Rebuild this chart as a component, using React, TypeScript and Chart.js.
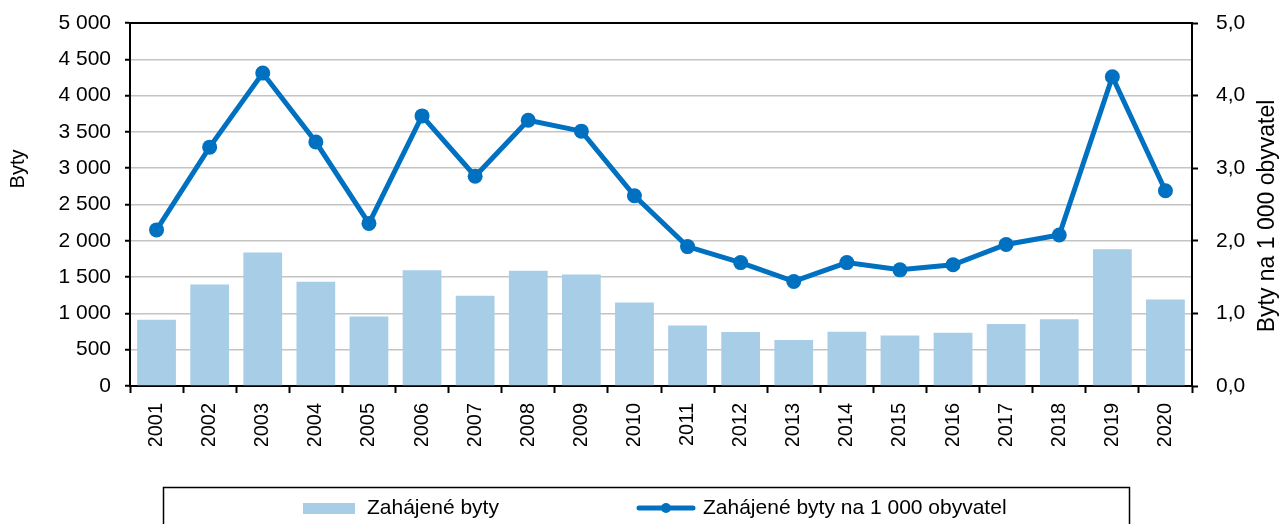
import React, { useEffect, useRef } from 'react';
import { Chart, registerables } from 'chart.js';

Chart.register(...registerables);

const FONT = "'Liberation Sans', Arial, Helvetica, sans-serif";

const years = ['2001', '2002', '2003', '2004', '2005', '2006', '2007', '2008', '2009', '2010',
  '2011', '2012', '2013', '2014', '2015', '2016', '2017', '2018', '2019', '2020'];

const startedDwellings = [914, 1399, 1838, 1436, 956, 1593, 1242, 1588, 1537, 1150,
  835, 743, 632, 748, 697, 734, 854, 918, 1884, 1191];

const startedPer1000 = [2.15, 3.29, 4.31, 3.36, 2.24, 3.72, 2.89, 3.66, 3.51, 2.62,
  1.92, 1.70, 1.44, 1.70, 1.60, 1.67, 1.95, 2.08, 4.26, 2.69];

const seriesLabels = ['Zahájené byty', 'Zahájené byty na 1 000 obyvatel'];
const leftAxisTitle = 'Byty';
const rightAxisTitle = 'Byty na 1 000 obyvatel';

const BAR_COLOR = '#a7cde7';
const LINE_COLOR = '#0070c0';

const fmtThousands = (v: number) => String(Math.round(v)).replace(/\B(?=(\d{3})+(?!\d))/g, ' ');
const fmtDecimal = (v: number) => Number(v).toFixed(1).replace('.', ',');

const decorPlugin = {
  id: 'decor',
  afterDraw(chart: any) {
    const { ctx, chartArea: ca } = chart;
    ctx.save();
    // top frame line
    ctx.strokeStyle = '#000';
    ctx.lineWidth = 2;
    ctx.beginPath();
    ctx.moveTo(ca.left - 1, ca.top);
    ctx.lineTo(ca.right + 1, ca.top);
    ctx.stroke();

    // axis titles
    ctx.fillStyle = '#000';
    ctx.textAlign = 'center';
    ctx.textBaseline = 'middle';
    ctx.font = `20px ${FONT}`;
    ctx.save();
    ctx.translate(18, 169);
    ctx.rotate(-Math.PI / 2);
    ctx.fillText(leftAxisTitle, 0, 0);
    ctx.restore();
    ctx.save();
    ctx.translate(1268, 216);
    ctx.rotate(-Math.PI / 2);
    ctx.font = `23px ${FONT}`;
    ctx.fillText(rightAxisTitle, 0, 0);
    ctx.restore();

    // legend box
    ctx.strokeStyle = '#000';
    ctx.lineWidth = 1.5;
    ctx.strokeRect(163.5, 487.5, 966, 80);
    const ly = 508;
    const ds = chart.data.datasets;
    ctx.font = `21px ${FONT}`;
    ctx.textAlign = 'left';
    // bar item
    ctx.fillStyle = ds[0].backgroundColor;
    ctx.fillRect(303, 503, 52, 11);
    ctx.fillStyle = '#000';
    ctx.fillText(ds[0].label, 367, ly);
    // line item
    ctx.strokeStyle = ds[1].borderColor;
    ctx.lineWidth = 5;
    ctx.lineCap = 'round';
    ctx.beginPath();
    ctx.moveTo(639, ly);
    ctx.lineTo(693, ly);
    ctx.stroke();
    ctx.fillStyle = ds[1].borderColor;
    ctx.beginPath();
    ctx.arc(666, ly, 5, 0, Math.PI * 2);
    ctx.fill();
    ctx.fillStyle = '#000';
    ctx.fillText(ds[1].label, 703, ly);
    ctx.restore();
  },
};

export default function App() {
  const ref = useRef<HTMLCanvasElement | null>(null);

  useEffect(() => {
    if (!ref.current) return;
    Chart.defaults.color = '#000';
    Chart.defaults.font.family = FONT;
    const chart = new Chart(ref.current, {
      type: 'bar',
      data: {
        labels: years,
        datasets: [
          {
            type: 'bar',
            label: seriesLabels[0],
            data: startedDwellings,
            backgroundColor: BAR_COLOR,
            borderWidth: 0,
            barPercentage: 0.73,
            categoryPercentage: 1,
            yAxisID: 'y',
            order: 2,
          } as any,
          {
            type: 'line',
            label: seriesLabels[1],
            data: startedPer1000,
            borderColor: LINE_COLOR,
            backgroundColor: LINE_COLOR,
            borderWidth: 5,
            pointRadius: 7.5,
            pointBorderWidth: 0,
            pointBackgroundColor: LINE_COLOR,
            tension: 0,
            yAxisID: 'y1',
            order: 1,
          } as any,
        ],
      },
      options: {
        animation: false,
        responsive: false,
        devicePixelRatio: 1,
        layout: { padding: { top: 23, bottom: 78, left: 0, right: 0 } },
        plugins: {
          legend: { display: false },
          title: { display: false },
          tooltip: { enabled: false },
        },
        scales: {
          x: {
            type: 'category',
            offset: true,
            grid: {
              offset: true,
              drawOnChartArea: false,
              drawTicks: true,
              tickLength: 7,
              tickColor: '#000',
              tickWidth: 2,
            },
            border: { color: '#000', width: 2 },
            ticks: {
              minRotation: 90,
              maxRotation: 90,
              autoSkip: false,
              padding: 10,
              color: '#000',
              font: { size: 20, family: FONT },
            },
            afterFit: (s: any) => { s.height = 60; },
          },
          y: {
            position: 'left',
            min: 0,
            max: 5000,
            ticks: {
              stepSize: 500,
              padding: 14,
              color: '#000',
              font: { size: 21, family: FONT },
              callback: (v: any) => fmtThousands(Number(v)),
            },
            grid: {
              color: '#c4c4c4',
              lineWidth: 1.5,
              tickColor: '#000',
              tickLength: 5,
              tickWidth: 2,
            },
            border: { color: '#000', width: 2 },
            afterFit: (s: any) => { s.width = 130; s.paddingTop = 0; s.paddingBottom = 0; },
          },
          y1: {
            position: 'right',
            min: 0,
            max: 5,
            ticks: {
              stepSize: 1,
              padding: 18,
              color: '#000',
              font: { size: 21, family: FONT },
              callback: (v: any) => fmtDecimal(Number(v)),
            },
            grid: {
              drawOnChartArea: false,
              tickColor: '#000',
              tickLength: 6,
              tickWidth: 2,
            },
            border: { color: '#000', width: 2 },
            afterFit: (s: any) => { s.width = 87; s.paddingTop = 0; s.paddingBottom = 0; },
          },
        },
      } as any,
      plugins: [decorPlugin],
    });
    return () => chart.destroy();
  }, []);

  return (
    <div style={{ position: 'fixed', left: 0, top: 0, width: 1279, height: 524, background: '#fff' }}>
      <canvas ref={ref} width={1279} height={524} />
    </div>
  );
}
